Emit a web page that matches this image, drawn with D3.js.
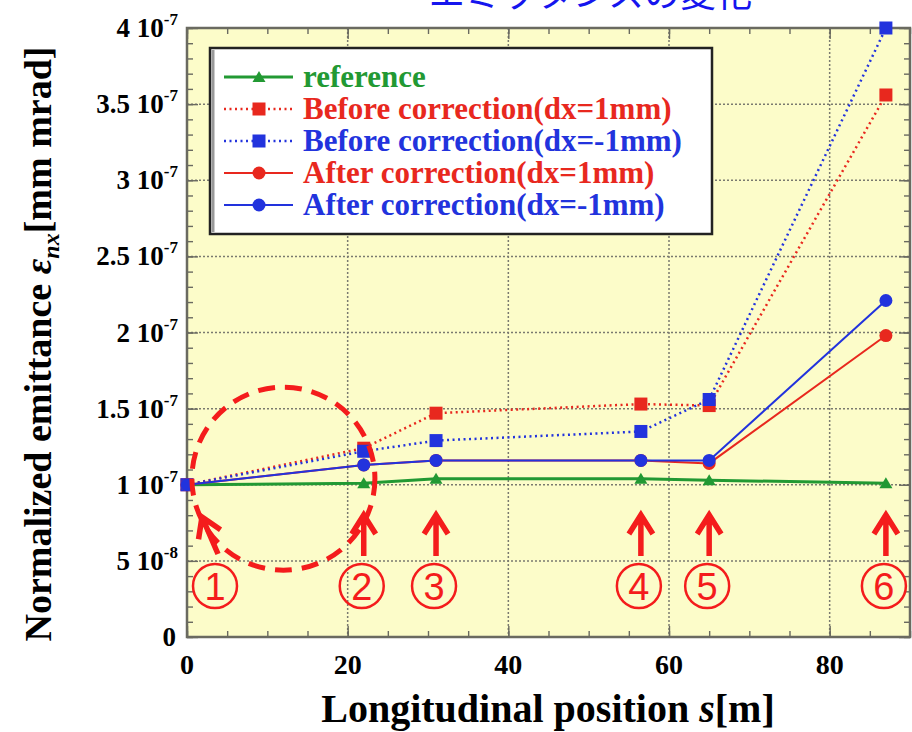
<!DOCTYPE html>
<html>
<head>
<meta charset="utf-8">
<script src="https://cdn.jsdelivr.net/npm/d3@7"></script>
<style>
  body { margin: 0; background: #fff; }
  svg { display: block; }
  text { font-family: "Liberation Serif", "Times New Roman", serif; font-weight: bold; }
</style>
</head>
<body>
<div id="chart"></div>
<script>
// data (emittance in m rad units, x in metres)
const positions = [0, 22, 31, 56.5, 65, 87];
const reference = [1.0e-7, 1.01e-7, 1.04e-7, 1.04e-7, 1.03e-7, 1.01e-7];
const beforePlus = [1.0e-7, 1.24e-7, 1.47e-7, 1.53e-7, 1.52e-7, 3.56e-7];
const beforeMinus = [1.0e-7, 1.22e-7, 1.29e-7, 1.35e-7, 1.56e-7, 4.0e-7];
const afterPlus = [1.0e-7, 1.13e-7, 1.16e-7, 1.16e-7, 1.14e-7, 1.98e-7];
const afterMinus = [1.0e-7, 1.13e-7, 1.16e-7, 1.16e-7, 1.16e-7, 2.21e-7];

const seriesNames = ["reference", "Before correction(dx=1mm)", "Before correction(dx=-1mm)",
  "After correction(dx=1mm)", "After correction(dx=-1mm)"];

const xTicks = [0, 20, 40, 60, 80];
const yTicks = [0, 0.5e-7, 1e-7, 1.5e-7, 2e-7, 2.5e-7, 3e-7, 3.5e-7, 4e-7];
const yTickMantissa = ["0", "5", "1", "1.5", "2", "2.5", "3", "3.5", "4"];
const yTickExponent = ["", "-8", "-7", "-7", "-7", "-7", "-7", "-7", "-7"];

const markLabels = ["1", "2", "3", "4", "5", "6"];
const titleText = "エミッタンスの変化";

const svgWidth = 912;
const svgHeight = 732;
const plot = { left: 187, right: 910, top: 28, bottom: 637 };

const red = "#e8281e", blue = "#2233dd", green = "#229933", annot = "#f41c1c";

const svg = d3.select("#chart").append("svg")
  .attr("width", svgWidth)
  .attr("height", svgHeight);

svg.append("rect").attr("width", svgWidth).attr("height", svgHeight).attr("fill", "#fff");

const x = d3.scaleLinear().domain([0, 90]).range([plot.left, plot.right]);
const y = d3.scaleLinear().domain([0, 4e-7]).range([plot.bottom, plot.top]);

// title (cut off at top)
svg.append("text")
  .attr("x", 752).attr("y", 7)
  .attr("text-anchor", "end")
  .style("font-family", "'Noto Sans CJK JP', sans-serif")
  .style("font-weight", "normal")
  .style("font-size", "36px")
  .attr("fill", "#1515ee")
  .text(titleText);

// plot background
svg.append("rect")
  .attr("x", plot.left).attr("y", plot.top)
  .attr("width", plot.right - plot.left).attr("height", plot.bottom - plot.top)
  .attr("fill", "#fcfcc9");

// grid
const grid = svg.append("g").attr("stroke", "#7a7a70").attr("stroke-width", 1.5).attr("stroke-dasharray", "2,2");
grid.selectAll(".gy").data(yTicks.slice(1, -1)).enter().append("line")
  .attr("x1", plot.left).attr("x2", plot.right)
  .attr("y1", function(d) { return y(d); }).attr("y2", function(d) { return y(d); });
grid.selectAll(".gx").data(xTicks.slice(1)).enter().append("line")
  .attr("y1", plot.top).attr("y2", plot.bottom)
  .attr("x1", function(d) { return x(d); }).attr("x2", function(d) { return x(d); });

// minor + major ticks, pointing inward on all four sides
const xMinor = d3.range(0, 91, 5);
const yMinor = d3.range(0, 41).map(function(i) { return i * 1e-8; });

svg.append("g").attr("transform", "translate(0," + plot.bottom + ")")
  .call(d3.axisBottom(x).tickValues(xMinor).tickSize(-6).tickFormat(""));
svg.append("g").attr("transform", "translate(0," + plot.top + ")")
  .call(d3.axisTop(x).tickValues(xMinor).tickSize(-6).tickFormat(""));
svg.append("g").attr("transform", "translate(" + plot.left + ",0)")
  .call(d3.axisLeft(y).tickValues(yMinor).tickSize(-6).tickFormat(""));
svg.append("g").attr("transform", "translate(" + plot.right + ",0)")
  .call(d3.axisRight(y).tickValues(yMinor).tickSize(-6).tickFormat(""));
svg.append("g").attr("transform", "translate(" + plot.left + ",0)")
  .call(d3.axisLeft(y).tickValues(yTicks).tickSize(-11).tickFormat(""));
svg.append("g").attr("transform", "translate(" + plot.right + ",0)")
  .call(d3.axisRight(y).tickValues(yTicks).tickSize(-11).tickFormat(""));
svg.append("g").attr("transform", "translate(0," + plot.bottom + ")")
  .call(d3.axisBottom(x).tickValues(xTicks).tickSize(-11).tickFormat(""));
svg.append("g").attr("transform", "translate(0," + plot.top + ")")
  .call(d3.axisTop(x).tickValues(xTicks).tickSize(-11).tickFormat(""));
svg.selectAll(".domain").remove();
svg.selectAll(".tick line").attr("stroke", "#6a6a60").attr("stroke-width", 1.4);

svg.append("rect")
  .attr("x", plot.left).attr("y", plot.top)
  .attr("width", plot.right - plot.left).attr("height", plot.bottom - plot.top)
  .attr("fill", "none").attr("stroke", "#6a6a60").attr("stroke-width", 2.5);

// tick labels
svg.selectAll(".xlab").data(xTicks).enter().append("text")
  .attr("x", function(d) { return x(d); })
  .attr("y", 674)
  .attr("text-anchor", "middle")
  .style("font-size", "28px")
  .text(function(d) { return d; });

const yLab = svg.selectAll(".ylab").data(yTicks).enter().append("text")
  .attr("x", function(d, i) { return i === 0 ? 176 : 178; })
  .attr("y", function(d) { return y(d) + 9; })
  .attr("text-anchor", "end")
  .style("font-size", "27px");
yLab.append("tspan").text(function(d, i) { return i === 0 ? "0" : yTickMantissa[i] + " 10"; });
yLab.append("tspan")
  .attr("dy", -12)
  .style("font-size", "17px")
  .text(function(d, i) { return yTickExponent[i]; });

// axis titles
svg.append("text")
  .attr("x", 548).attr("y", 722)
  .attr("text-anchor", "middle")
  .style("font-size", "40px")
  .call(function(t) {
    t.append("tspan").text("Longitudinal position  ");
    t.append("tspan").style("font-style", "italic").text("s");
    t.append("tspan").text("[m]");
  });

svg.append("text")
  .attr("transform", "translate(51,344) rotate(-90)")
  .attr("text-anchor", "middle")
  .style("font-size", "38px")
  .call(function(t) {
    t.append("tspan").text("Normalized emittance  ");
    t.append("tspan").style("font-style", "italic").text("ε");
    t.append("tspan").attr("dy", 8).style("font-style", "italic").style("font-size", "24px").text("nx");
    t.append("tspan").attr("dy", -8).text("[mm mrad]");
  });

// series
const series = [
  { values: reference, color: green, dash: null, width: 3, marker: "triangle" },
  { values: beforePlus, color: red, dash: "2,3.5", width: 2.5, marker: "square" },
  { values: beforeMinus, color: blue, dash: "2,3.5", width: 2.5, marker: "square" },
  { values: afterPlus, color: red, dash: null, width: 2, marker: "circle" },
  { values: afterMinus, color: blue, dash: null, width: 2, marker: "circle" }
];

const line = d3.line()
  .x(function(d, i) { return x(positions[i]); })
  .y(function(d) { return y(d); });

function drawMarker(g, type, color) {
  if (type === "square") {
    g.append("rect").attr("x", -6.5).attr("y", -6.5).attr("width", 13).attr("height", 13).attr("fill", color);
  } else if (type === "circle") {
    g.append("circle").attr("r", 6.5).attr("fill", color);
  } else {
    g.append("path").attr("d", "M0,-6L6.5,5L-6.5,5Z").attr("fill", color);
  }
}

series.forEach(function(s) {
  svg.append("path")
    .datum(s.values)
    .attr("d", line)
    .attr("fill", "none")
    .attr("stroke", s.color)
    .attr("stroke-width", s.width)
    .attr("stroke-dasharray", s.dash);
});
series.forEach(function(s) {
  s.values.forEach(function(v, i) {
    const g = svg.append("g").attr("transform", "translate(" + x(positions[i]) + "," + y(v) + ")");
    drawMarker(g, s.marker, s.color);
  });
});

// legend
const legend = svg.append("g");
legend.append("rect")
  .attr("x", 210).attr("y", 48).attr("width", 502).attr("height", 186)
  .attr("fill", "#fff").attr("stroke", "#222").attr("stroke-width", 2.5);
legend.append("line")
  .attr("x1", 213).attr("x2", 213).attr("y1", 50).attr("y2", 232)
  .attr("stroke", "#999").attr("stroke-width", 3);

series.forEach(function(s, i) {
  const cy = 77 + i * 32;
  legend.append("line")
    .attr("x1", 224).attr("x2", 293).attr("y1", cy).attr("y2", cy)
    .attr("stroke", s.color).attr("stroke-width", s.width).attr("stroke-dasharray", s.dash);
  drawMarker(legend.append("g").attr("transform", "translate(259," + cy + ")"), s.marker, s.color);
  legend.append("text")
    .attr("x", 303).attr("y", cy + 10)
    .attr("fill", s.color)
    .style("font-size", "31px")
    .text(seriesNames[i]);
});

// annotations: dashed circle, arrows, circled numbers
const ann = svg.append("g");
ann.append("circle")
  .attr("cx", x(12)).attr("cy", y(1.04e-7)).attr("r", 91.5)
  .attr("fill", "none").attr("stroke", annot).attr("stroke-width", 5).attr("stroke-dasharray", "17,10");

function arrow(x0, y0, x1, y1) {
  const dx = x1 - x0, dy = y1 - y0, len = Math.sqrt(dx * dx + dy * dy);
  const ux = dx / len, uy = dy / len;
  const hl = 19, hw = 12;
  const bx = x1 - ux * hl, by = y1 - uy * hl;
  ann.append("path")
    .attr("d", "M" + x0 + "," + y0 + "L" + x1 + "," + y1 +
      "M" + (bx - uy * hw) + "," + (by + ux * hw) + "L" + x1 + "," + y1 +
      "L" + (bx + uy * hw) + "," + (by - ux * hw))
    .attr("fill", "none").attr("stroke", annot).attr("stroke-width", 5.5)
    .attr("stroke-linejoin", "miter");
}

positions.forEach(function(p, i) {
  const px = x(p);
  if (i === 0) {
    arrow(px + 31, 554, px + 15, 517);
  } else {
    arrow(px, 556, px, 515);
  }
  const cx = i === 0 ? px + 28 : px - 2;
  ann.append("circle")
    .attr("cx", cx).attr("cy", 586).attr("r", 22)
    .attr("fill", "none").attr("stroke", annot).attr("stroke-width", 2.5);
  ann.append("text")
    .attr("x", cx).attr("y", 600)
    .attr("text-anchor", "middle")
    .attr("fill", annot)
    .style("font-family", "'Liberation Sans', Arial, sans-serif")
    .style("font-weight", "normal")
    .style("font-size", "38px")
    .text(markLabels[i]);
});
</script>
</body>
</html>
